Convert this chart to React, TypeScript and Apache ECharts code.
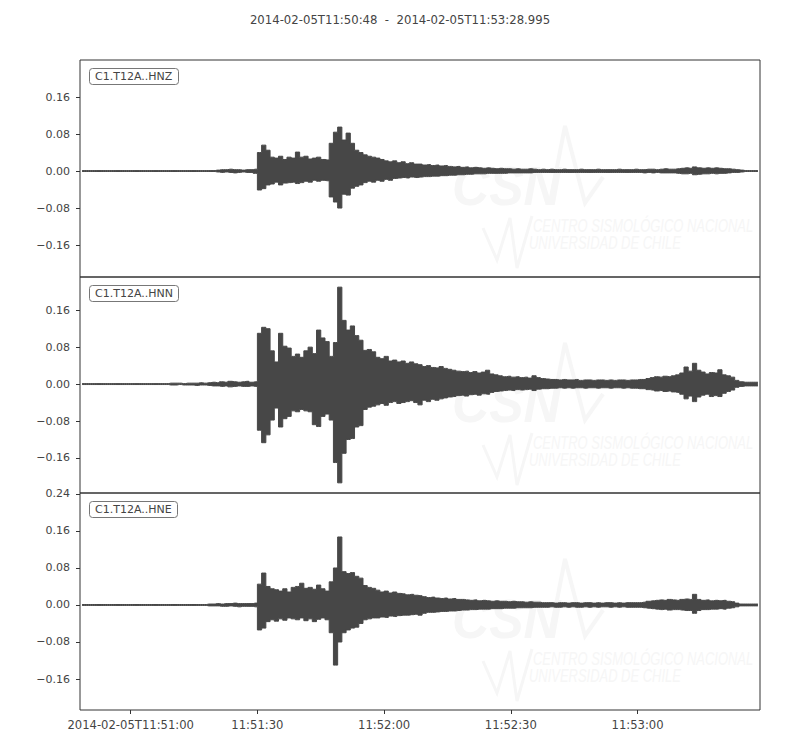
import React, { useEffect, useRef } from "react";
import * as echarts from "echarts";

const TITLE = "2014-02-05T11:50:48  -  2014-02-05T11:53:28.995";
const TRACE_LABELS = ["C1.T12A..HNZ", "C1.T12A..HNN", "C1.T12A..HNE"];
// seconds after 2014-02-05T11:50:48
const X_TICK_SECONDS = [12, 42, 72, 102, 132];
const X_TICK_LABELS = ["2014-02-05T11:51:00", "11:51:30", "11:52:00", "11:52:30", "11:53:00"];
const DURATION = 160.995;
const Y_TICKS = [-0.16, -0.08, 0, 0.08, 0.16];
const Y_TICKS_LAST = [-0.16, -0.08, 0, 0.08, 0.16, 0.24];
const Y_MIN = [-0.229, -0.236, -0.227];
const Y_MAX = [0.24, 0.232, 0.242];

// per-second envelope (max / min) of each trace, bins t = 0..160 s
const hnzMax = [
  0.001, 0.001, 0.001, 0.001, 0.001, 0.001, 0.001, 0.001, 0.001, 0.001,
  0.001, 0.001, 0.001, 0.001, 0.001, 0.001, 0.001, 0.001, 0.001, 0.001,
  0.001, 0.001, 0.001, 0.001, 0.001, 0.001, 0.001, 0.001, 0.001, 0.001,
  0.001, 0.001, 0.002, 0.003, 0.003, 0.004, 0.003, 0.003, 0.002, 0.003,
  0.003, 0.004, 0.040, 0.056, 0.045, 0.030, 0.028, 0.032, 0.025, 0.030,
  0.028, 0.041, 0.030, 0.032, 0.026, 0.028, 0.030, 0.025, 0.024, 0.060,
  0.084, 0.095, 0.067, 0.082, 0.060, 0.045, 0.040, 0.035, 0.032, 0.030,
  0.028, 0.025, 0.022, 0.020, 0.022, 0.018, 0.020, 0.016, 0.018, 0.015,
  0.015, 0.013, 0.014, 0.012, 0.013, 0.011, 0.012, 0.010, 0.009, 0.010,
  0.008, 0.009, 0.007, 0.008, 0.007, 0.006, 0.007, 0.006, 0.005, 0.006,
  0.005, 0.005, 0.004, 0.005, 0.004, 0.004, 0.005, 0.004, 0.003, 0.004,
  0.003, 0.004, 0.003, 0.003, 0.004, 0.003, 0.003, 0.003, 0.004, 0.003,
  0.003, 0.003, 0.004, 0.003, 0.003, 0.003, 0.003, 0.004, 0.003, 0.003,
  0.003, 0.004, 0.003, 0.003, 0.004, 0.004, 0.003, 0.004, 0.005, 0.004,
  0.004, 0.005, 0.006, 0.007, 0.006, 0.009, 0.007, 0.006, 0.007, 0.006,
  0.007, 0.006, 0.005, 0.005, 0.004, 0.003, 0.002, 0.001, 0.001, 0.001, 0.001,
];
const hnzMin = [
  -0.001, -0.001, -0.001, -0.001, -0.001, -0.001, -0.001, -0.001, -0.001, -0.001,
  -0.001, -0.001, -0.001, -0.001, -0.001, -0.001, -0.001, -0.001, -0.001, -0.001,
  -0.001, -0.001, -0.001, -0.001, -0.001, -0.001, -0.001, -0.001, -0.001, -0.001,
  -0.001, -0.001, -0.002, -0.003, -0.002, -0.003, -0.004, -0.003, -0.002, -0.003,
  -0.003, -0.005, -0.041, -0.038, -0.030, -0.028, -0.024, -0.030, -0.026, -0.025,
  -0.024, -0.027, -0.025, -0.022, -0.024, -0.020, -0.022, -0.020, -0.021, -0.056,
  -0.067, -0.080, -0.050, -0.052, -0.037, -0.033, -0.030, -0.025, -0.022, -0.024,
  -0.020, -0.022, -0.018, -0.020, -0.016, -0.015, -0.014, -0.015, -0.013, -0.014,
  -0.013, -0.012, -0.012, -0.011, -0.011, -0.010, -0.010, -0.009, -0.009, -0.008,
  -0.008, -0.007, -0.007, -0.006, -0.006, -0.006, -0.005, -0.005, -0.005, -0.005,
  -0.005, -0.004, -0.004, -0.004, -0.004, -0.004, -0.004, -0.003, -0.003, -0.003,
  -0.003, -0.003, -0.003, -0.003, -0.003, -0.003, -0.003, -0.003, -0.003, -0.003,
  -0.003, -0.003, -0.003, -0.003, -0.003, -0.003, -0.003, -0.003, -0.003, -0.003,
  -0.003, -0.003, -0.003, -0.004, -0.003, -0.004, -0.003, -0.004, -0.004, -0.004,
  -0.004, -0.005, -0.006, -0.006, -0.005, -0.008, -0.007, -0.006, -0.006, -0.005,
  -0.006, -0.005, -0.005, -0.004, -0.003, -0.003, -0.002, -0.001, -0.001, -0.001, -0.001,
];

const hnnMax = [
  0.001, 0.001, 0.001, 0.001, 0.001, 0.001, 0.001, 0.001, 0.001, 0.001,
  0.001, 0.001, 0.001, 0.001, 0.001, 0.001, 0.001, 0.001, 0.001, 0.001,
  0.001, 0.002, 0.002, 0.002, 0.001, 0.002, 0.002, 0.002, 0.003, 0.002,
  0.003, 0.004, 0.003, 0.005, 0.004, 0.006, 0.005, 0.004, 0.005, 0.006,
  0.004, 0.005, 0.110, 0.123, 0.120, 0.072, 0.048, 0.110, 0.082, 0.078,
  0.060, 0.065, 0.058, 0.072, 0.080, 0.066, 0.117, 0.100, 0.092, 0.060,
  0.090, 0.210, 0.138, 0.117, 0.126, 0.105, 0.095, 0.073, 0.075, 0.070,
  0.058, 0.055, 0.060, 0.050, 0.052, 0.048, 0.050, 0.045, 0.048, 0.044,
  0.042, 0.038, 0.040, 0.036, 0.035, 0.038, 0.034, 0.032, 0.030, 0.028,
  0.027, 0.028, 0.025, 0.027, 0.024, 0.026, 0.030, 0.022, 0.020, 0.018,
  0.016, 0.017, 0.015, 0.016, 0.014, 0.015, 0.013, 0.018, 0.014, 0.012,
  0.011, 0.010, 0.010, 0.009, 0.010, 0.009, 0.009, 0.010, 0.008, 0.009,
  0.009, 0.008, 0.009, 0.009, 0.008, 0.009, 0.008, 0.009, 0.009, 0.008,
  0.009, 0.009, 0.010, 0.010, 0.012, 0.014, 0.016, 0.015, 0.017, 0.016,
  0.018, 0.020, 0.024, 0.037, 0.028, 0.045, 0.030, 0.026, 0.022, 0.025,
  0.024, 0.031, 0.020, 0.018, 0.015, 0.008, 0.005, 0.004, 0.004, 0.004, 0.004,
];
const hnnMin = [
  -0.001, -0.001, -0.001, -0.001, -0.001, -0.001, -0.001, -0.001, -0.001, -0.001,
  -0.001, -0.001, -0.001, -0.001, -0.001, -0.001, -0.001, -0.001, -0.001, -0.001,
  -0.001, -0.002, -0.002, -0.001, -0.002, -0.002, -0.002, -0.003, -0.002, -0.002,
  -0.003, -0.004, -0.004, -0.005, -0.004, -0.006, -0.005, -0.004, -0.005, -0.005,
  -0.004, -0.005, -0.100, -0.127, -0.110, -0.078, -0.052, -0.093, -0.075, -0.070,
  -0.058, -0.060, -0.055, -0.058, -0.060, -0.088, -0.092, -0.070, -0.065, -0.078,
  -0.170, -0.214, -0.150, -0.120, -0.118, -0.093, -0.090, -0.055, -0.050, -0.048,
  -0.045, -0.042, -0.046, -0.040, -0.038, -0.042, -0.040, -0.038, -0.036, -0.040,
  -0.045, -0.035, -0.038, -0.033, -0.035, -0.032, -0.030, -0.028, -0.027, -0.025,
  -0.024, -0.026, -0.023, -0.022, -0.024, -0.021, -0.022, -0.018, -0.016, -0.015,
  -0.014, -0.013, -0.014, -0.012, -0.013, -0.012, -0.011, -0.014, -0.011, -0.010,
  -0.010, -0.009, -0.009, -0.008, -0.009, -0.008, -0.009, -0.008, -0.008, -0.009,
  -0.008, -0.008, -0.009, -0.008, -0.008, -0.009, -0.008, -0.008, -0.009, -0.008,
  -0.009, -0.009, -0.010, -0.010, -0.012, -0.013, -0.015, -0.014, -0.016, -0.015,
  -0.017, -0.018, -0.022, -0.032, -0.026, -0.038, -0.028, -0.024, -0.022, -0.027,
  -0.025, -0.027, -0.020, -0.016, -0.013, -0.007, -0.005, -0.004, -0.004, -0.004, -0.004,
];

const hneMax = [
  0.001, 0.001, 0.001, 0.001, 0.001, 0.001, 0.001, 0.001, 0.001, 0.001,
  0.001, 0.001, 0.001, 0.001, 0.001, 0.001, 0.001, 0.001, 0.001, 0.001,
  0.001, 0.001, 0.001, 0.001, 0.001, 0.001, 0.001, 0.001, 0.001, 0.001,
  0.002, 0.002, 0.003, 0.002, 0.003, 0.003, 0.004, 0.003, 0.003, 0.003,
  0.003, 0.004, 0.045, 0.069, 0.040, 0.035, 0.033, 0.030, 0.035, 0.028,
  0.038, 0.040, 0.047, 0.036, 0.038, 0.034, 0.043, 0.035, 0.030, 0.050,
  0.080, 0.147, 0.072, 0.068, 0.070, 0.062, 0.058, 0.042, 0.038, 0.036,
  0.032, 0.028, 0.030, 0.026, 0.028, 0.025, 0.024, 0.022, 0.023, 0.021,
  0.020, 0.018, 0.016, 0.017, 0.015, 0.014, 0.015, 0.013, 0.014, 0.012,
  0.012, 0.011, 0.010, 0.011, 0.009, 0.010, 0.009, 0.008, 0.009, 0.008,
  0.008, 0.007, 0.008, 0.007, 0.007, 0.006, 0.007, 0.006, 0.006, 0.005,
  0.005, 0.005, 0.004, 0.005, 0.005, 0.004, 0.005, 0.005, 0.004, 0.005,
  0.005, 0.004, 0.005, 0.004, 0.005, 0.005, 0.004, 0.005, 0.004, 0.005,
  0.005, 0.005, 0.005, 0.006, 0.008, 0.009, 0.010, 0.011, 0.010, 0.012,
  0.011, 0.010, 0.012, 0.013, 0.012, 0.023, 0.012, 0.010, 0.011, 0.009,
  0.010, 0.009, 0.010, 0.008, 0.007, 0.004, 0.002, 0.002, 0.002, 0.002, 0.002,
];
const hneMin = [
  -0.001, -0.001, -0.001, -0.001, -0.001, -0.001, -0.001, -0.001, -0.001, -0.001,
  -0.001, -0.001, -0.001, -0.001, -0.001, -0.001, -0.001, -0.001, -0.001, -0.001,
  -0.001, -0.001, -0.001, -0.001, -0.001, -0.001, -0.001, -0.001, -0.001, -0.001,
  -0.002, -0.002, -0.002, -0.003, -0.003, -0.002, -0.003, -0.004, -0.003, -0.003,
  -0.003, -0.004, -0.054, -0.050, -0.036, -0.032, -0.035, -0.030, -0.033, -0.028,
  -0.030, -0.032, -0.028, -0.034, -0.030, -0.036, -0.031, -0.028, -0.032, -0.060,
  -0.130, -0.080, -0.060, -0.054, -0.050, -0.048, -0.040, -0.032, -0.030, -0.028,
  -0.028, -0.026, -0.027, -0.024, -0.025, -0.023, -0.022, -0.022, -0.021, -0.020,
  -0.022, -0.018, -0.016, -0.016, -0.015, -0.014, -0.014, -0.013, -0.013, -0.012,
  -0.011, -0.011, -0.010, -0.010, -0.009, -0.009, -0.009, -0.008, -0.008, -0.008,
  -0.007, -0.007, -0.007, -0.006, -0.006, -0.006, -0.006, -0.005, -0.005, -0.005,
  -0.005, -0.004, -0.005, -0.005, -0.004, -0.005, -0.004, -0.005, -0.005, -0.004,
  -0.005, -0.004, -0.005, -0.004, -0.004, -0.005, -0.004, -0.005, -0.004, -0.005,
  -0.005, -0.005, -0.005, -0.006, -0.007, -0.008, -0.009, -0.010, -0.009, -0.011,
  -0.010, -0.010, -0.011, -0.012, -0.012, -0.018, -0.012, -0.010, -0.010, -0.009,
  -0.009, -0.008, -0.009, -0.007, -0.006, -0.004, -0.002, -0.002, -0.002, -0.002, -0.002,
];

const TRACES = [
  { max: hnzMax, min: hnzMin },
  { max: hnnMax, min: hnnMin },
  { max: hneMax, min: hneMin },
];

const FONT = "'DejaVu Sans', sans-serif";
const TEXT_COLOR = "#444";
const TRACE_COLOR = "#474747";
const PANEL_TOPS = [60, 277, 493];
const PANEL_HEIGHTS = [217, 216, 217];

// each one-second bin is placed at its centre
function pairs(vals: number[]): number[][] {
  return vals.map((v, i) => [i + 0.5, v]);
}

function fmtY(v: number): string {
  const s = Math.abs(v) < 1e-9 ? "0.00" : v.toFixed(2);
  return s.replace("-", "\u2212");
}

function watermark(top: number): any[] {
  const c = "#f6f6f6";
  const font = "italic 18px 'Liberation Sans', sans-serif";
  return [
    {
      type: "text",
      x: 452,
      y: top + 97,
      z: 1,
      silent: true,
      scaleX: 0.92,
      style: { text: "CSN", fill: c, font: "italic bold 56px 'Liberation Sans', sans-serif" },
    },
    {
      type: "polyline",
      z: 1,
      silent: true,
      shape: { points: [[550, top + 143], [565, top + 66], [585, top + 143], [603, top + 117]] },
      style: { stroke: c, lineWidth: 4, fill: null },
    },
    {
      type: "polyline",
      z: 1,
      silent: true,
      shape: { points: [[483, top + 168], [497, top + 200], [510, top + 158], [517, top + 208], [532, top + 156]] },
      style: { stroke: c, lineWidth: 3, fill: null },
    },
    {
      type: "text",
      x: 533,
      y: top + 157,
      z: 1,
      silent: true,
      scaleX: 0.72,
      style: { text: "CENTRO SISMOLÓGICO NACIONAL", fill: c, font },
    },
    {
      type: "text",
      x: 529,
      y: top + 174,
      z: 1,
      silent: true,
      scaleX: 0.72,
      style: { text: "UNIVERSIDAD DE CHILE", fill: c, font },
    },
  ];
}

export default function App() {
  const ref = useRef<HTMLDivElement>(null);

  useEffect(() => {
    if (!ref.current) return;
    const chart = echarts.init(ref.current, undefined, { renderer: "svg" });

    const grids = PANEL_TOPS.map((top, i) => ({
      left: 80,
      top,
      width: 680,
      height: PANEL_HEIGHTS[i],
      show: true,
      borderColor: "#333",
      borderWidth: 1,
      backgroundColor: "transparent",
    }));

    const xAxes = PANEL_TOPS.map((_, i) => {
      const last = i === PANEL_TOPS.length - 1;
      return {
        type: "value",
        gridIndex: i,
        position: "bottom",
        min: 0,
        max: DURATION,
        axisLine: { show: false, onZero: false },
        splitLine: { show: false },
        axisTick: {
          show: last,
          length: 4,
          lineStyle: { color: "#333" },
          customValues: X_TICK_SECONDS,
        },
        axisLabel: {
          show: last,
          margin: 9,
          color: TEXT_COLOR,
          fontFamily: FONT,
          fontSize: 11.6,
          customValues: X_TICK_SECONDS,
          formatter: (v: number) => {
            const idx = X_TICK_SECONDS.findIndex((s) => Math.abs(s - v) < 1e-6);
            return idx >= 0 ? X_TICK_LABELS[idx] : "";
          },
        },
      };
    });

    const yAxes = PANEL_TOPS.map((_, i) => {
      const ticks = i === PANEL_TOPS.length - 1 ? Y_TICKS_LAST : Y_TICKS;
      return {
        type: "value",
        gridIndex: i,
        min: Y_MIN[i],
        max: Y_MAX[i],
        axisLine: { show: false, onZero: false },
        splitLine: { show: false },
        axisTick: { show: true, length: 4, lineStyle: { color: "#333" }, customValues: ticks },
        axisLabel: {
          margin: 10,
          color: TEXT_COLOR,
          fontFamily: FONT,
          fontSize: 11,
          customValues: ticks,
          formatter: (v: number) => fmtY(v),
        },
      };
    });

    const series: any[] = [];
    TRACES.forEach((tr, i) => {
      [tr.max, tr.min].forEach((vals, k) => {
        series.push({
          type: "line",
          name: TRACE_LABELS[i] + (k === 0 ? " max" : " min"),
          xAxisIndex: i,
          yAxisIndex: i,
          data: pairs(vals),
          step: "middle",
          showSymbol: false,
          symbol: "none",
          z: 3,
          lineStyle: { color: TRACE_COLOR, width: 1 },
          areaStyle: { color: TRACE_COLOR, opacity: 1, origin: "auto" },
          silent: true,
        });
      });
    });

    const titles: any[] = [
      {
        text: TITLE,
        left: "center",
        top: 9,
        textStyle: { fontFamily: FONT, fontSize: 11.7, fontWeight: "normal", color: TEXT_COLOR },
      },
      ...TRACE_LABELS.map((lab, i) => ({
        text: lab,
        left: 89,
        top: PANEL_TOPS[i] + 8,
        padding: [3, 6],
        backgroundColor: "#fff",
        borderColor: "#777",
        borderWidth: 1,
        borderRadius: 3,
        z: 10,
        textStyle: { fontFamily: FONT, fontSize: 11, fontWeight: "normal", color: TEXT_COLOR },
      })),
    ];

    chart.setOption({
      animation: false,
      backgroundColor: "#fff",
      title: titles,
      grid: grids,
      xAxis: xAxes,
      yAxis: yAxes,
      series,
      graphic: { elements: PANEL_TOPS.flatMap((t) => watermark(t)) },
    });

    return () => chart.dispose();
  }, []);

  return (
    <div
      ref={ref}
      style={{ position: "fixed", left: 0, top: 0, width: 800, height: 750 }}
    />
  );
}
